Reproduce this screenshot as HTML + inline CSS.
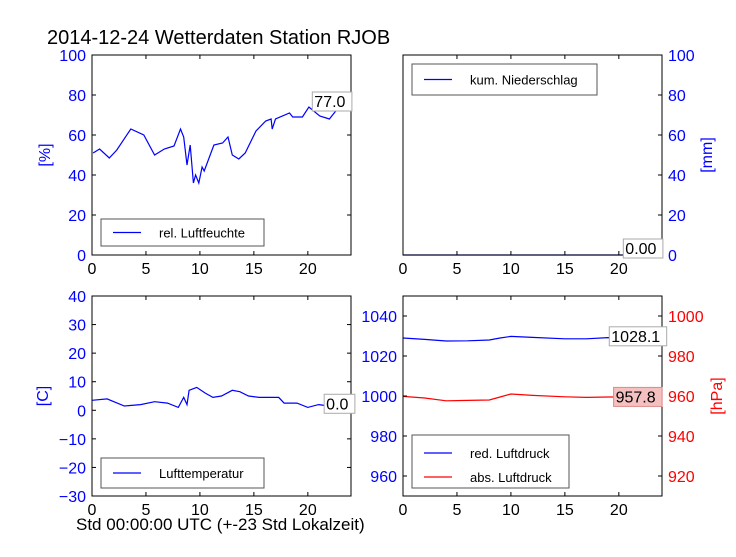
<!DOCTYPE html>
<html><head><meta charset="utf-8"><style>
body{margin:0;background:#fff;}
svg{font-family:"Liberation Sans","DejaVu Sans",sans-serif;}
</style></head><body>
<svg id="c" width="736" height="552" viewBox="0 0 736 552" xmlns="http://www.w3.org/2000/svg">
<rect width="736" height="552" fill="#fff"/>
<text x="47" y="44" font-size="20" fill="#000">2014-12-24 Wetterdaten Station RJOB</text>
</svg>
<script>
const humHours=[0.1,0.7,1.6,2.3,3.6,4.8,5.8,6.7,7.6,8.2,8.5,8.8,9.1,9.4,9.6,9.9,10.2,10.4,11.3,12.1,12.6,13,13.6,14.2,15.2,16.1,16.6,16.7,17,18.3,18.6,19.5,20.1,21.1,22,22.8,23.5,23.9];
const humVals=[51,53,48.5,52.5,63,60,50,53,54.5,63,59,45,55,36,40,36,44,42,55,56,59,50,48,51,62,67,68,63,68,71,69,69,74,69.5,68,73.5,74.5,77];
const tempHours=[0,1.4,3,4.5,5.8,7,8,8.5,8.8,9,9.7,10.5,11.2,12,13,13.7,14.5,15.5,16.5,17.3,17.8,19,20,21,22,23,24];
const tempVals=[3.5,4,1.5,2,3,2.5,1,4.5,2,7,8,6,4.5,5,7,6.5,5,4.5,4.5,4.5,2.5,2.5,1,2,1.5,1,0];
const presHours=[0,2,4,6,8,9,10,12,15,17,19,21,24];
const redVals=[1029,1028.3,1027.5,1027.6,1028,1029,1029.8,1029.3,1028.6,1028.6,1029.2,1029,1028.1];
const absVals=[959.8,959,957.6,957.8,958,959.5,961,960.3,959.6,959.3,959.5,959.5,957.8];
const xTicks=[0,5,10,15,20];
const humTicks=[0,20,40,60,80,100];
const rainTicks=[0,20,40,60,80,100];
const tempTicks=[-30,-20,-10,0,10,20,30,40];
const presLTicks=[960,980,1000,1020,1040];
const presRTicks=[920,940,960,980,1000];

const svg=document.getElementById('c');
const NS='http://www.w3.org/2000/svg';
function mk(tag,attrs,parent){const e=document.createElementNS(NS,tag);for(const k in attrs)e.setAttribute(k,attrs[k]);(parent||svg).appendChild(e);return e;}
function txt(x,y,s,attrs,parent){const t=mk('text',Object.assign({x:x,y:y},attrs),parent);t.textContent=s;return t;}

function panel(name,x0,y0,ymin,ymax){
  const g=mk('g',{});
  
  
  const w=259,h=200;
  const sx=v=>x0+v/24*w;
  const sy=v=>y0+h-(v-ymin)/(ymax-ymin)*h;
  return {g,sx,sy,x0,y0,w,h};
}
function frame(p){
  const r=mk('rect',{x:p.x0,y:p.y0,width:p.w,height:p.h,fill:'none',stroke:'#000','stroke-width':1},p.g);
  
  
}
function xAxis(p,labels){
  xTicks.forEach(v=>{
    const x=p.sx(v);
    mk('line',{x1:x,x2:x,y1:p.y0+p.h,y2:p.y0+p.h-4,stroke:'#000'},p.g);
    mk('line',{x1:x,x2:x,y1:p.y0,y2:p.y0+4,stroke:'#000'},p.g);
    if(labels){const t=txt(x,p.y0+p.h+19,String(v),{'font-size':16,'text-anchor':'middle',fill:'#000'},p.g);
    
    }
  });
}
function yAxis(p,ticks,sy,side,color,labels){
  ticks.forEach(v=>{
    const y=sy(v);
    if(side==='left'){mk('line',{x1:p.x0,x2:p.x0+4,y1:y,y2:y,stroke:'#000'},p.g);}
    else{mk('line',{x1:p.x0+p.w,x2:p.x0+p.w-4,y1:y,y2:y,stroke:'#000'},p.g);}
    if(labels){
      const t= side==='left'?txt(p.x0-6,y+6,String(v).replace('-','\u2212'),{'font-size':16,'text-anchor':'end',fill:color},p.g)
        :txt(p.x0+p.w+6,y+6,String(v),{'font-size':16,'text-anchor':'start',fill:color},p.g);
      
      
    }
  });
}
function line(p,xs,ys,sy,color,name){
  const d=xs.map((h,i)=>(i?'L':'M')+p.sx(h).toFixed(1)+','+sy(ys[i]).toFixed(1)).join('');
  const e=mk('path',{d:d,fill:'none',stroke:color,'stroke-width':1.2},p.g);
  
  
}
function legend(p,x,y,w,h,items){
  const g=mk('g',{},p.g);
  
  
  mk('rect',{x:x,y:y,width:w,height:h,fill:'#fff',stroke:'#555','stroke-width':1},g);
  items.forEach((it,i)=>{
    const yy=y+ (items.length===1? h/2 : 18+i*24);
    mk('line',{x1:x+12,x2:x+40,y1:yy,y2:yy,stroke:it[1],'stroke-width':1.2},g);
    const t=txt(x+58,yy+5,it[0],{'font-size':13,fill:'#000'},g);
    
    
  });
}
function annot(x,y,s,fill,stroke,parent){
  const g=mk('g',{},parent);
  
  
  const t=txt(x,y,s,{'font-size':16,fill:'#000'},g);
  const w=s.length*8.9+4;
  const r=mk('rect',{x:x-2,y:y-15,width:w,height:19,fill:fill,stroke:stroke,'stroke-width':1},g);
  g.insertBefore(r,t);
}

let p=panel('humidity-panel',92,55,0,100);
line(p,humHours,humVals,p.sy,'#0000ff','humidity-line');
frame(p);xAxis(p,true);yAxis(p,humTicks,p.sy,'left','#0000ff',true);yAxis(p,humTicks,p.sy,'right','#000',false);
legend(p,101,219,163,27,[['rel. Luftfeuchte','#0000ff']]);
annot(p.sx(20.6),p.sy(humVals[humVals.length-1])+6,humVals[humVals.length-1].toFixed(1),'#fff','#aaa',p.g);
let t=txt(50,155,'[%]',{'font-size':16,fill:'#0000ff',transform:'rotate(-90 50 155)','text-anchor':'middle'},p.g);


p=panel('precipitation-panel',403,55,0,100);
const rainHours=[0,24];const rainVals=[0,0];
line(p,rainHours,rainVals,p.sy,'#0000ff','precipitation-line');
frame(p);xAxis(p,true);yAxis(p,rainTicks,p.sy,'right','#0000ff',true);
legend(p,412,64,185,31,[['kum. Niederschlag','#0000ff']]);
annot(p.sx(20.6),p.sy(0)-1,'0.00','#fff','#aaa',p.g);
t=txt(712,155,'[mm]',{'font-size':16,fill:'#0000ff',transform:'rotate(-90 712 155)','text-anchor':'middle'},p.g);


p=panel('temperature-panel',92,296,-30,40);
line(p,tempHours,tempVals,p.sy,'#0000ff','temperature-line');
frame(p);xAxis(p,true);yAxis(p,tempTicks,p.sy,'left','#0000ff',true);yAxis(p,tempTicks,p.sy,'right','#000',false);
legend(p,101,458,163,30,[['Lufttemperatur','#0000ff']]);
annot(p.sx(21.7),p.sy(tempVals[tempVals.length-1])-1,tempVals[tempVals.length-1].toFixed(1),'#fff','#aaa',p.g);
t=txt(48,396,'[C]',{'font-size':16,fill:'#0000ff',transform:'rotate(-90 48 396)','text-anchor':'middle'},p.g);

t=txt(76,530,'Std 00:00:00 UTC (+-23 Std Lokalzeit)',{'font-size':17,fill:'#000'},p.g);


p=panel('pressure-panel',403,296,950,1050);
const syR=v=>p.y0+p.h-(v-910)/100*p.h;
line(p,presHours,redVals,p.sy,'#0000ff','reduced-pressure-line');
line(p,presHours,absVals,syR,'#ff0000','absolute-pressure-line');
frame(p);xAxis(p,true);yAxis(p,presLTicks,p.sy,'left','#0000ff',true);yAxis(p,presRTicks,syR,'right','#ff0000',true);
legend(p,412,435,157,53,[['red. Luftdruck','#0000ff'],['abs. Luftdruck','#ff0000']]);
annot(p.sx(19.3),p.sy(redVals[redVals.length-1])+2,redVals[redVals.length-1].toFixed(1),'#fff','#aaa',p.g);
annot(p.sx(19.7),syR(absVals[absVals.length-1])+2,absVals[absVals.length-1].toFixed(1),'#f4c0c0','#d88',p.g);
t=txt(722,396,'[hPa]',{'font-size':16,fill:'#ff0000',transform:'rotate(-90 722 396)','text-anchor':'middle'},p.g);

</script>
</body></html>
